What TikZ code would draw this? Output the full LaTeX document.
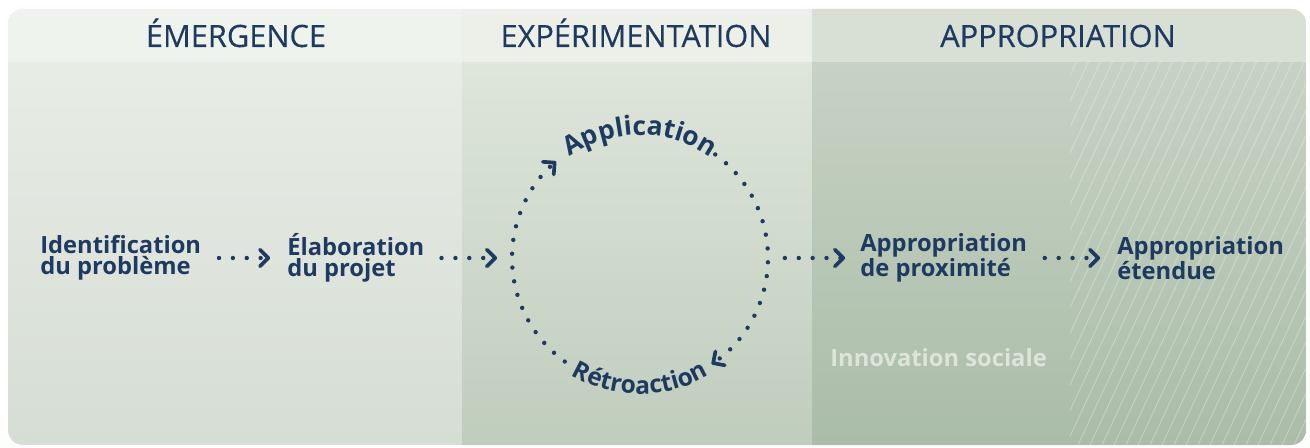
\documentclass[tikz,border=0pt]{standalone}
\usepackage{fontspec}
\setmainfont{Open Sans}
\newfontfamily\titlefont[FakeBold=0.3]{Open Sans}
\usetikzlibrary{arrows.meta,decorations.text}

\definecolor{navy}{HTML}{1F3A60}
\definecolor{social}{HTML}{DDE4DA}
\newcommand{\labelfont}{\fontsize{13.5}{12}\selectfont\bfseries}
\newcommand{\cyclefont}{\fontsize{15}{16}\selectfont\bfseries}

\begin{document}
\begin{tikzpicture}[x=0.02cm,y=0.02cm,
    title/.style={text=navy,font=\titlefont\fontsize{17.5}{20}\selectfont,anchor=base},
    stage/.style={text=navy,font=\labelfont,align=left,anchor=west,inner sep=0pt},
    flow/.style={draw=navy,line width=2.5pt,line cap=round,dash pattern=on 0pt off 7.9pt,
        -{Straight Barb[length=4.8pt,width=9.5pt,line width=2.1pt,round]}},
    hatch/.style={white,opacity=0.3,line width=0.5pt}]

    \useasboundingbox (0,0) rectangle (1310,447);

    % background
    \begin{scope}
        \clip[rounded corners=8.5pt] (8,2) rectangle (1306,438);
        \shade[top color={rgb,255:red,234;green,239;blue,232},bottom color={rgb,255:red,214;green,221;blue,213}] (8,2) rectangle (462,438);
        \shade[top color={rgb,255:red,227;green,233;blue,223},bottom color={rgb,255:red,191;green,205;blue,189}] (462,2) rectangle (812,438);
        \shade[top color={rgb,255:red,203;green,213;blue,200},bottom color={rgb,255:red,170;green,189;blue,168}] (812,2) rectangle (1306,438);
        \fill[color={rgb,255:red,239;green,243;blue,237}] (8,385) rectangle (462,438);
        \fill[color={rgb,255:red,237;green,240;blue,232}] (462,385) rectangle (812,438);
        \fill[color={rgb,255:red,216;green,223;blue,213}] (812,385) rectangle (1306,438);
        \begin{scope}
            \clip (1070,2) rectangle (1306,385);
            \foreach \x in {850,862,...,1306}
                \draw[hatch] (\x,2) -- ++(203,436);
        \end{scope}
    \end{scope}

    % titles
    \node[title] (emer) at (236,400) {ÉMERGENCE};
    \node[title] (expe) at (636,400) {EXPÉRIMENTATION};
    \node[title] (appr) at (1058,400) {APPROPRIATION};

    % nodes
    \node[stage] (ident) at (40,189) {Identification\\du problème};
    \node[stage] (elab) at (287,189) {Élaboration\\du projet};
    \node[stage] (proxi) at (860,189) {Appropriation\\de proximité};
    \node[stage] (etendue) at (1117,189) {Appropriation\\étendue};
    \node[stage,text=social,anchor=base west] (innov) at (830,81) {Innovation sociale};
    \coordinate (cyc) at (640,189);
    \coordinate (cyc-w) at (512,189);
    \coordinate (cyc-e) at (768,189);

    % paths
    \draw[flow,shorten <=10pt,shorten >=9.6pt] (ident.east |- cyc) -- (elab.west |- cyc);
    \draw[flow,shorten <=9.6pt,shorten >=8.5pt] (elab.east |- cyc) -- (cyc-w);
    \draw[flow,shorten <=9.6pt,shorten >=8.5pt] (cyc-e) -- (proxi.west |- cyc);
    \draw[flow,shorten <=10pt,shorten >=9.6pt] (proxi.east |- cyc) -- (etendue.west |- cyc);

    % cycle
    \draw[flow] (cyc) ++(234:128) arc[start angle=234,end angle=131,radius=128];
    \draw[flow] (cyc) ++(54:128) arc[start angle=54,end angle=-56,radius=128];
    \path[decorate,decoration={text along path,text align=center,text color=navy,
        text={|\cyclefont|Application}}]
        (cyc) ++(150:123) arc[start angle=150,end angle=30,radius=123];
    \path[decorate,decoration={text along path,text align=center,text color=navy,
        text={|\fontsize{14}{14}\selectfont\bfseries|Rétroaction}}]
        (cyc) ++(200:136) arc[start angle=200,end angle=340,radius=136];
\end{tikzpicture}
\end{document}
